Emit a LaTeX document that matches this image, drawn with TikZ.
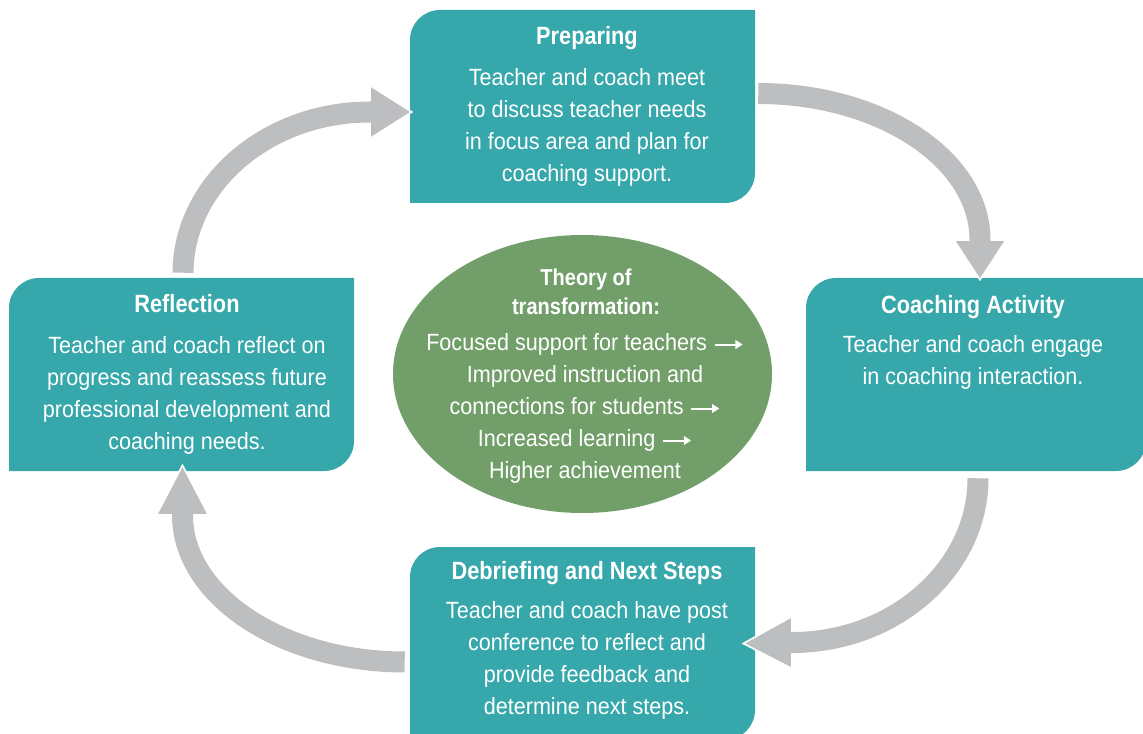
\documentclass[tikz,border=0pt]{standalone}
\usepackage{fontspec}
\setmainfont{Liberation Sans}[FakeStretch=0.92]
\newfontfamily\titlefont{Liberation Sans}[FakeStretch=0.87]
\usetikzlibrary{shapes.geometric,fit,calc,arrows.meta}
\definecolor{boxc}{HTML}{36A7AA}
\definecolor{ellc}{HTML}{729E6A}
\definecolor{arrc}{HTML}{BDBEC0}
\newcommand\tealbox[5]{%
  \fill[boxc] (#2,#5) -- (#2,#3-30) arc[start angle=180,end angle=90,radius=22.5pt]
    -- (#4,#3) -- (#4,#5+30) arc[start angle=0,end angle=-90,radius=22.5pt] -- cycle;
  \node[fit={(#2,#3) (#4,#5)}, inner sep=0pt] (#1) {};}
\newsavebox\tarrbox
\sbox\tarrbox{\tikz[baseline=-4.3pt]\draw[white, line width=1.5pt, -{Triangle[length=5.5pt,width=6.5pt]}] (0pt,0pt) -- (21pt,0pt);}
\newcommand\tarr{\hspace{5pt}\usebox\tarrbox}
\begin{document}
\begin{tikzpicture}[x=0.75pt,y=0.75pt,
  ttl/.style={text=white, inner sep=0pt, align=center, font=\titlefont\bfseries\fontsize{18.75pt}{22pt}\selectfont},
  etl/.style={text=white, inner sep=0pt, align=center, font=\titlefont\bfseries\fontsize{17.25pt}{21.75pt}\selectfont},
  bdy/.style={text=white, inner sep=0pt, align=center, font=\fontsize{17.6pt}{24pt}\selectfont},
  shaft/.style={draw=arrc, line width=15.75pt},
  head/.style={fill=arrc, draw=white, line width=1.2pt, line join=miter}]
\useasboundingbox (0,0) rectangle (1143,-734);

% boxes
\tealbox{prep}{410}{-10}{755}{-203}
\tealbox{refl}{9}{-278}{354}{-471}
\tealbox{coach}{806}{-278}{1146}{-471}
\tealbox{debr}{410}{-547}{755}{-740}

% centre ellipse
\node[ellipse, fill=ellc, minimum width=284.25pt, minimum height=208.5pt, inner sep=0pt] (theory) at (582.5,-374) {};

% texts
\node[ttl, anchor=north] (prepT) at (587,-26) {Preparing};
\node[bdy, anchor=north] (prepB) at (587,-68) {Teacher and coach meet\\to discuss teacher needs\\in focus area and plan for\\coaching support.};

\node[ttl, anchor=north] (reflT) at (187,-294) {Reflection};
\node[bdy, anchor=north] (reflB) at (187,-336) {Teacher and coach reflect on\\progress and reassess future\\professional development and\\coaching needs.};

\node[ttl, anchor=north] (coachT) at (973,-295) {Coaching Activity};
\node[bdy, anchor=north] (coachB) at (973,-335) {Teacher and coach engage\\in coaching interaction.};

\node[ttl, anchor=north] (debrT) at (587,-561) {Debriefing and Next Steps};
\node[bdy, anchor=north] (debrB) at (587,-601) {Teacher and coach have post\\conference to reflect and\\provide feedback and\\determine next steps.};

\node[etl, anchor=north] (thT) at (586,-269) {Theory of\\transformation:};
\node[bdy, anchor=north] (thB) at (585,-333) {Focused support for teachers\tarr\\Improved instruction and\\connections for students\tarr\\Increased learning\tarr\\Higher achievement};

% arrow coordinates
\coordinate (s1) at ($(refl.north)+(1.5,5)$);
\coordinate (b1) at (370,-112);
\coordinate (t1) at ($(prep.west)+(2,-5.5)$);
\coordinate (s2) at ($(prep.east)+(3,13)$);
\coordinate (b2) at (980,-240);
\coordinate (t2) at ($(coach.north)+(4,-2)$);
\coordinate (s3) at ($(coach.south)+(2,-7)$);
\coordinate (b3) at (792,-642.5);
\coordinate (t3) at ($(debr.east)+(-12,0)$);
\coordinate (s4) at ($(debr.west)+(-5,-18.5)$);
\coordinate (b4) at (182.5,-515);
\coordinate (t4) at ($(refl.south)+(1,6)$);

% arrow 1: Reflection -> Preparing
\filldraw[head] (t1) -- ($(b1)+(0,26.5)$) -- ($(b1)+(0,-26.5)$) -- cycle;
\draw[shaft] (s1) .. controls (183.5,-184) and (267,-112) .. (b1) -- ++(3,0);
% arrow 2: Preparing -> Coaching Activity
\filldraw[head] (t2) -- ($(b2)+(-26,0)$) -- ($(b2)+(26,0)$) -- cycle;
\draw[shaft] (s2) .. controls (880.5,-93.5) and (980,-159) .. (b2) -- ++(0,-3);
% arrow 3: Coaching Activity -> Debriefing
\filldraw[head] (t3) -- ($(b3)+(0,26)$) -- ($(b3)+(0,-26)$) -- cycle;
\draw[shaft] (s3) .. controls (978,-568.5) and (894.7,-642.5) .. (b3) -- ++(-3,0);
% arrow 4: Debriefing -> Reflection
\filldraw[head] (t4) -- ($(b4)+(-26,0)$) -- ($(b4)+(26,0)$) -- cycle;
\draw[shaft] (s4) .. controls (282.2,-662) and (182.5,-596) .. (b4) -- ++(0,3);
\end{tikzpicture}
\end{document}
